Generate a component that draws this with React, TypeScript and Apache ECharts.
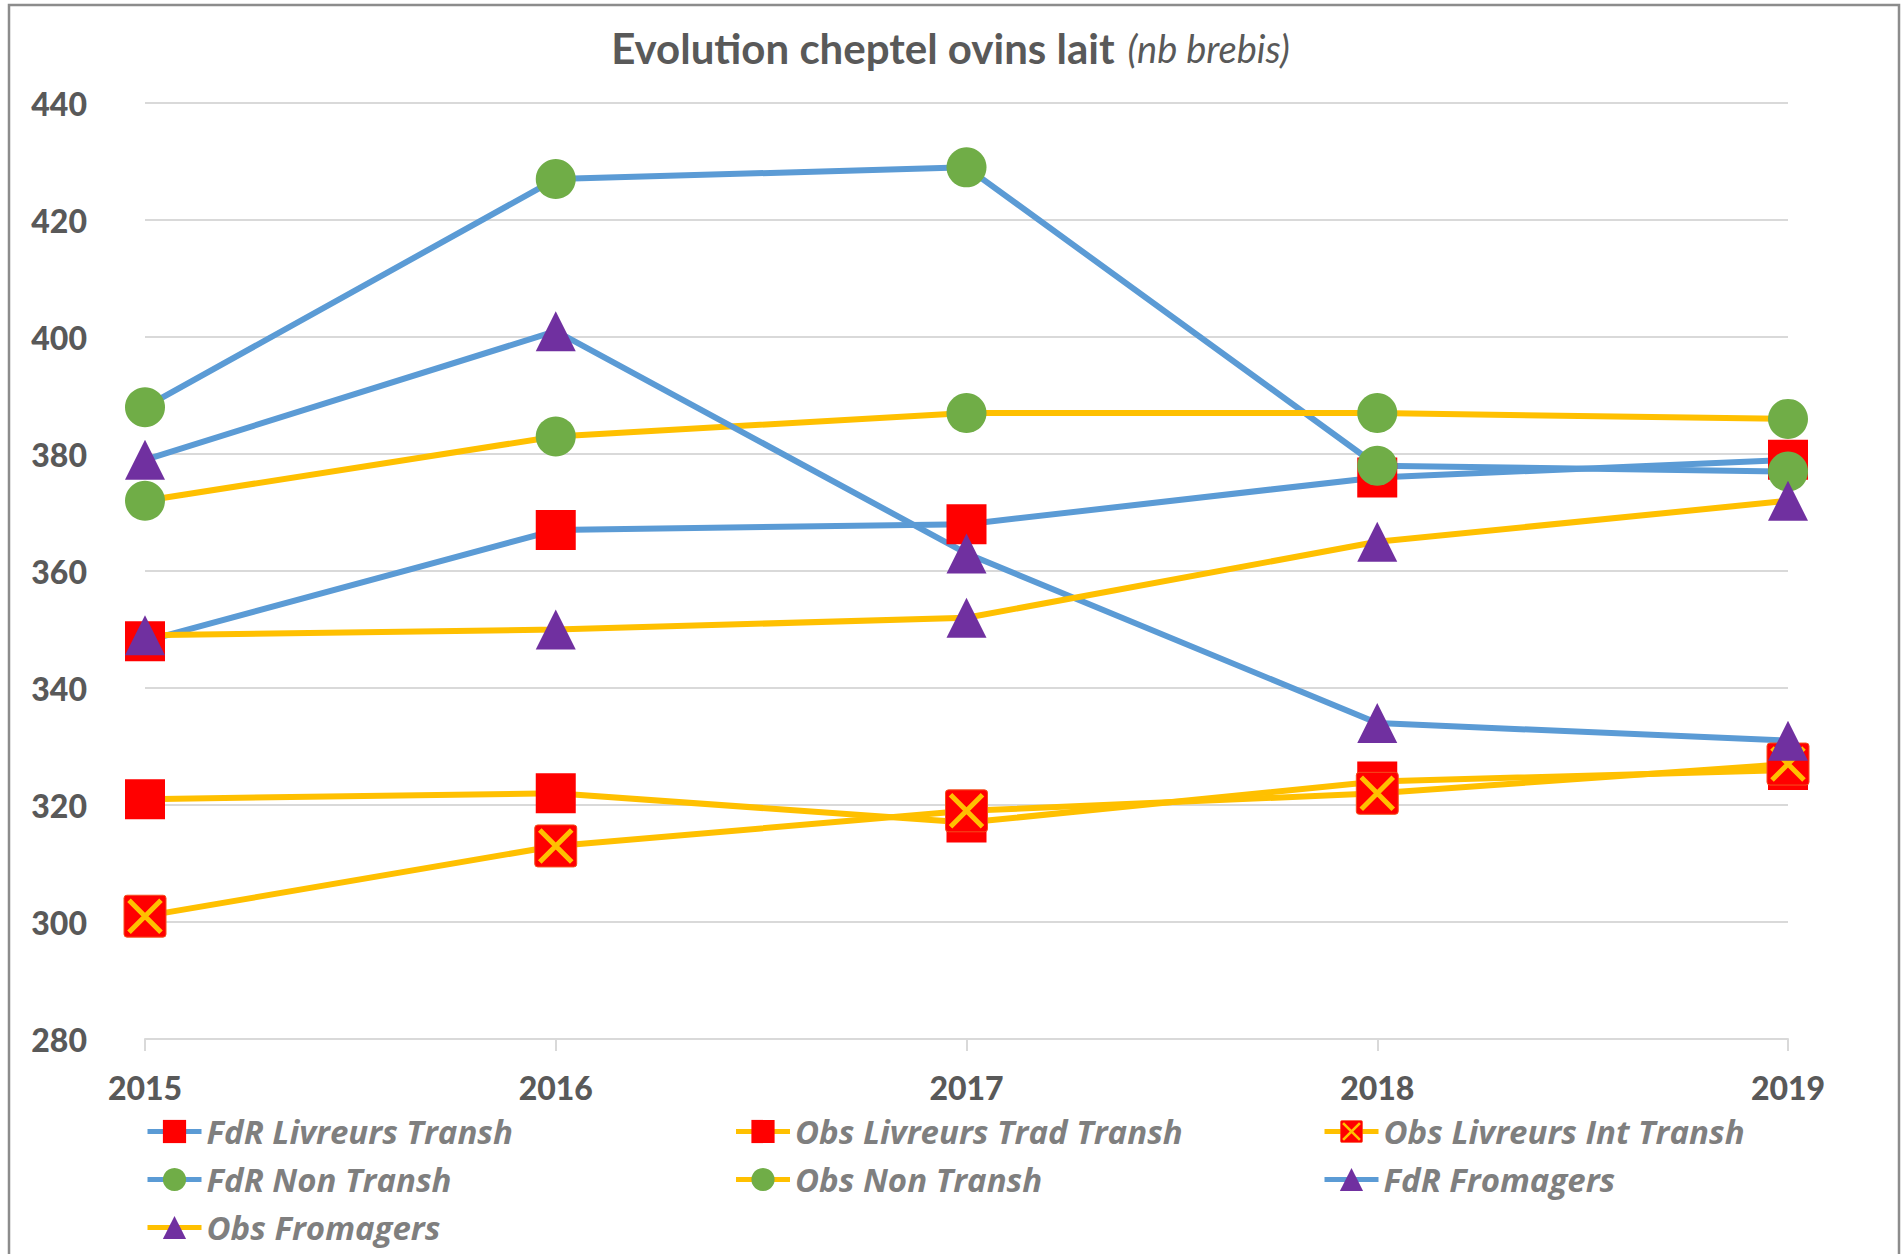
import React, { useEffect, useRef } from "react";
import * as echarts from "echarts";

const categories = ["2015", "2016", "2017", "2018", "2019"];
const fdrLivreursTransh = [348, 367, 368, 376, 379];
const obsLivreursTradTransh = [321, 322, 317, 324, 326];
const obsLivreursIntTransh = [301, 313, 319, 322, 327];
const fdrNonTransh = [388, 427, 429, 378, 377];
const obsNonTransh = [372, 383, 387, 387, 386];
const fdrFromagers = [379, 401, 363, 334, 331];
const obsFromagers = [349, 350, 352, 365, 372];

const yMin = 280;
const yMax = 440;
const yInterval = 20;

const BLUE = "#5B9BD5";
const YELLOW = "#FFC000";
const RED = "#FF0000";
const GREEN = "#70AD47";
const PURPLE = "#7030A0";
const FONT = "Lato, 'Open Sans', sans-serif";
const LEGEND_FONT = "'Open Sans', Lato, sans-serif";

const xSvg =
  '<svg xmlns="http://www.w3.org/2000/svg" width="44" height="44" viewBox="0 0 44 44">' +
  '<rect x="1" y="1" width="42" height="42" rx="3" fill="#FF0000" stroke="#F4511E" stroke-width="1"/>' +
  '<path d="M6 6L38 38M38 6L6 38" stroke="#FFC000" stroke-width="5"/></svg>';
const xSymbol = "image://data:image/svg+xml;charset=utf-8," + encodeURIComponent(xSvg);

function mkSeries(name: string, data: number[], line: string, symbol: string, color: string, size: number) {
  return {
    name,
    type: "line",
    data,
    symbol,
    symbolSize: size,
    showAllSymbol: true,
    lineStyle: { color: line, width: 6 },
    itemStyle: { color, borderWidth: 0 },
    emphasis: { disabled: true },
  };
}

export default function App() {
  const ref = useRef<HTMLDivElement>(null);
  useEffect(() => {
    if (!ref.current) return;
    const chart = echarts.init(ref.current, null, { renderer: "svg" });
    chart.setOption({
      animation: false,
      backgroundColor: "#FFFFFF",
      title: {
        left: "center",
        top: 22,
        text: "{b|Evolution cheptel ovins lait} {i|(nb brebis)}",
        textStyle: {
          rich: {
            b: { fontFamily: FONT, fontWeight: "bold", fontSize: 42, color: "#595959" },
            i: {
              fontFamily: FONT,
              fontStyle: "italic",
              fontWeight: "normal",
              fontSize: 38,
              color: "#595959",
              padding: [0, 0, 0, 8],
            },
          },
        },
      },
      graphic: [
        {
          type: "rect",
          shape: { x: 9, y: 5, width: 1890, height: 1300 },
          style: { fill: "none", stroke: "#8C8C8C", lineWidth: 2.5 },
          silent: true,
        },
      ],
      grid: { left: 145, right: 113, top: 103, bottom: 215, containLabel: false },
      xAxis: {
        type: "category",
        data: categories,
        boundaryGap: false,
        axisLine: { lineStyle: { color: "#D9D9D9", width: 2 } },
        axisTick: { show: true, length: 12, lineStyle: { color: "#D9D9D9", width: 2 } },
        axisLabel: { fontFamily: FONT, fontWeight: 900, fontSize: 32, color: "#595959", margin: 32 },
        splitLine: { show: false },
      },
      yAxis: {
        type: "value",
        min: yMin,
        max: yMax,
        interval: yInterval,
        axisLine: { show: false },
        axisTick: { show: false },
        axisLabel: { fontFamily: FONT, fontWeight: 900, fontSize: 32, color: "#595959", margin: 58 },
        splitLine: { lineStyle: { color: "#D9D9D9", width: 2 } },
      },
      legend: {
        left: 140,
        top: 1110,
        width: 1755,
        itemWidth: 54,
        itemHeight: 29,
        itemGap: 15,
        lineStyle: { width: 5 },
        textStyle: {
          fontFamily: LEGEND_FONT,
          fontWeight: "bold",
          fontStyle: "italic",
          fontSize: 33,
          color: "#7F7F7F",
          width: 512,
          lineHeight: 32,
        },
      },
      series: [
        mkSeries("FdR Livreurs Transh", fdrLivreursTransh, BLUE, "rect", RED, 40),
        mkSeries("Obs Livreurs Trad Transh", obsLivreursTradTransh, YELLOW, "rect", RED, 40),
        mkSeries("Obs Livreurs Int Transh", obsLivreursIntTransh, YELLOW, xSymbol, RED, 44),
        mkSeries("FdR Non Transh", fdrNonTransh, BLUE, "circle", GREEN, 40),
        mkSeries("Obs Non Transh", obsNonTransh, YELLOW, "circle", GREEN, 40),
        mkSeries("FdR Fromagers", fdrFromagers, BLUE, "triangle", PURPLE, 40),
        mkSeries("Obs Fromagers", obsFromagers, YELLOW, "triangle", PURPLE, 40),
      ],
    });
    return () => chart.dispose();
  }, []);
  return (
    <div
      ref={ref}
      style={{ position: "fixed", left: 0, top: 0, width: 1901, height: 1254, background: "#fff" }}
    />
  );
}
